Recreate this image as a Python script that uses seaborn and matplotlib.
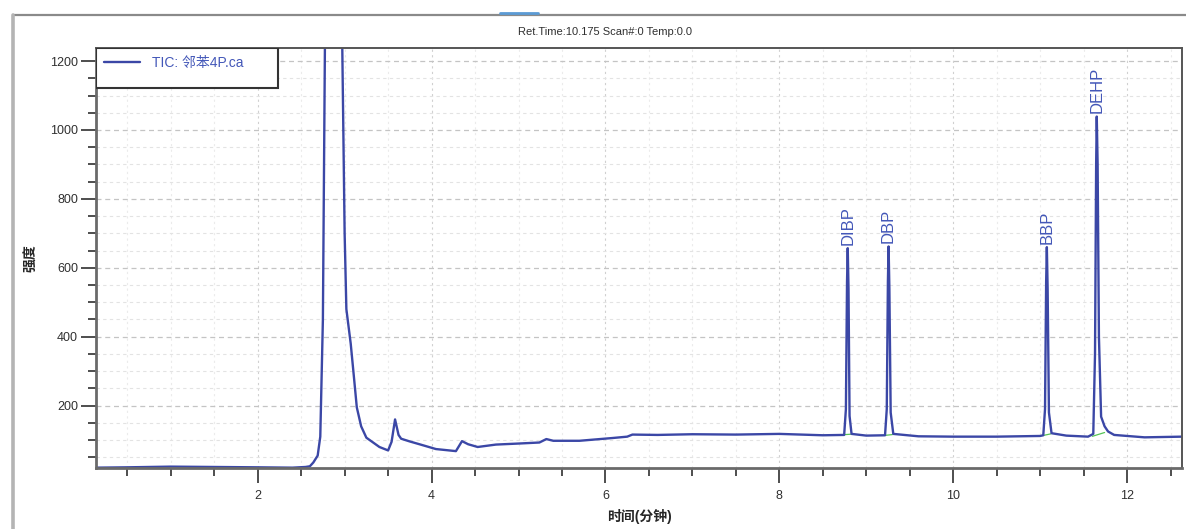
import numpy as np
import pandas as pd
import matplotlib
matplotlib.use("Agg")
import matplotlib.pyplot as plt
from matplotlib.lines import Line2D
from matplotlib.patches import Rectangle
from matplotlib.ticker import MultipleLocator
import seaborn as sns

# TIC trace (minutes, counts)
ret_time = [0.14, 0.5, 1.0, 1.5, 2.0, 2.4, 2.55, 2.60, 2.64, 2.69, 2.72, 2.75, 2.775,
            2.87, 2.95, 2.97, 3.00, 3.02, 3.07, 3.11, 3.14, 3.19, 3.25, 3.30, 3.40,
            3.50, 3.54, 3.58, 3.62, 3.65, 3.75, 3.86, 4.05, 4.28, 4.35, 4.42, 4.53,
            4.74, 5.0, 5.24, 5.32, 5.40, 5.70, 6.08, 6.25, 6.31, 6.6, 7.0, 7.5, 8.0,
            8.5, 8.745, 8.765, 8.778, 8.786, 8.795, 8.807, 8.83, 9.0,
            9.215, 9.235, 9.248, 9.256, 9.265, 9.28, 9.31, 9.6, 10.0, 10.5, 11.0,
            11.035, 11.055, 11.068, 11.076, 11.085, 11.10, 11.13, 11.3, 11.55,
            11.61, 11.63, 11.643, 11.65, 11.66, 11.675, 11.70, 11.74, 11.78, 11.85,
            12.0, 12.2, 12.63]
intensity = [20, 21, 23, 22, 21, 20, 22, 24, 35, 55, 110, 450, 1300,
             2000, 1700, 1300, 700, 480, 380, 275, 195, 140, 107, 98, 80,
             70, 95, 160, 115, 104, 96, 88, 74, 68, 97, 88, 80,
             87, 90, 93, 103, 98, 98, 106, 110, 116, 115, 117, 116, 118,
             114, 115, 190, 560, 657, 540, 170, 118, 113,
             114, 190, 560, 662, 540, 180, 118, 111, 110, 110, 112,
             114, 190, 560, 660, 540, 180, 120, 113, 110,
             118, 350, 900, 1039, 900, 400, 168, 140, 125, 115,
             112, 108, 110]

# labelled peaks
peak_names = ["DIBP", "DBP", "BBP", "DEHP"]
peak_time = [8.786, 9.256, 11.076, 11.65]
peak_height = [657, 662, 660, 1039]

# integration baselines under the peaks (start t, start y, end t, end y)
base_t0 = [8.755, 9.225, 11.045, 11.60]
base_y0 = [116, 114, 114, 111]
base_t1 = [8.82, 9.30, 11.12, 11.74]
base_y1 = [117, 116, 118, 122]

x_ticks = [2, 4, 6, 8, 10, 12]
y_ticks = [200, 400, 600, 800, 1000, 1200]

trace_color = "#3b47a6"
label_color = "#4357b8"

sns.set_style("white")
plt.rcParams["font.family"] = ["Liberation Sans", "Noto Sans CJK SC", "DejaVu Sans"]

fig = plt.figure(figsize=(11.86, 5.29), dpi=100)
ax = fig.add_axes([0.0809, 0.1153, 0.9157, 0.794])

df = pd.DataFrame({"t": ret_time, "y": intensity})
sns.lineplot(data=df, x="t", y="y", ax=ax, color=trace_color, lw=1.7,
             estimator=None, label="TIC: 邻苯4P.ca")

for t0, y0, t1, y1 in zip(base_t0, base_y0, base_t1, base_y1):
    ax.plot([t0, t1], [y0, y1], color="#55c455", lw=0.9, zorder=1)

for name, t, h in zip(peak_names, peak_time, peak_height):
    ax.text(t, h + 10, name, rotation=90, ha="center", va="bottom",
            color=label_color, fontsize=12)

ax.set_xlim(0.14, 12.63)
ax.set_ylim(19, 1238)
ax.set_xticks(x_ticks)
ax.set_yticks(y_ticks)
ax.xaxis.set_minor_locator(MultipleLocator(0.5))
ax.yaxis.set_minor_locator(MultipleLocator(50))
ax.tick_params(which="major", direction="out", length=11, width=1.3,
               color="#404040", labelsize=9, labelcolor="#303030", pad=2)
ax.tick_params(which="minor", direction="out", length=6, width=1.3, color="#404040")
ax.tick_params(axis="x", which="major", pad=5)
ax.tick_params(left=True, bottom=True, which="both")

ax.grid(which="major", axis="y", ls=(0, (4, 3)), color="#c4c4c4", lw=0.9)
ax.grid(which="minor", axis="y", ls=(0, (3, 3)), color="#e3e3e3", lw=0.8)
ax.grid(which="major", axis="x", ls=(0, (2, 3)), color="#d0d0d0", lw=0.8)
ax.grid(which="minor", axis="x", ls=(0, (2, 3)), color="#ebebeb", lw=0.8)

for side in ["left", "bottom"]:
    ax.spines[side].set_color("#6a6a6a")
    ax.spines[side].set_linewidth(2)
for side in ["top", "right"]:
    ax.spines[side].set_color("#555555")
    ax.spines[side].set_linewidth(1.4)

ax.set_xlabel("时间(分钟)", fontsize=10, fontweight="bold", labelpad=5)
ax.set_ylabel("强度", fontsize=10, fontweight="bold", labelpad=8)

# legend box in the top-left corner
leg = ax.legend(loc="upper left", bbox_to_anchor=(0.0, 1.0), frameon=False,
                fontsize=10, handlelength=2.6, borderaxespad=0.2, handletextpad=0.8)
for txt in leg.get_texts():
    txt.set_color(label_color)
ax.add_patch(Rectangle((0, 0.905), 0.168, 0.095, transform=ax.transAxes,
                       fill=True, facecolor="white", edgecolor="#333333",
                       lw=1.5, zorder=3))
leg.set_zorder(4)

# window frame and status line above the plot
fig.add_artist(Line2D([0.011, 1.0], [0.9716, 0.9716], color="#8a8a8a", lw=1.6))
fig.add_artist(Line2D([0.011, 0.011], [0.0, 0.9716], color="#b4b4b4", lw=2.6))
fig.add_artist(Line2D([0.4216, 0.4536], [0.9754, 0.9754], color="#5b9bd5", lw=2))
fig.text(0.510, 0.9395, "Ret.Time:10.175 Scan#:0 Temp:0.0", ha="center",
         va="center", fontsize=8, color="#303030")

fig.savefig("out.png", dpi=100)
